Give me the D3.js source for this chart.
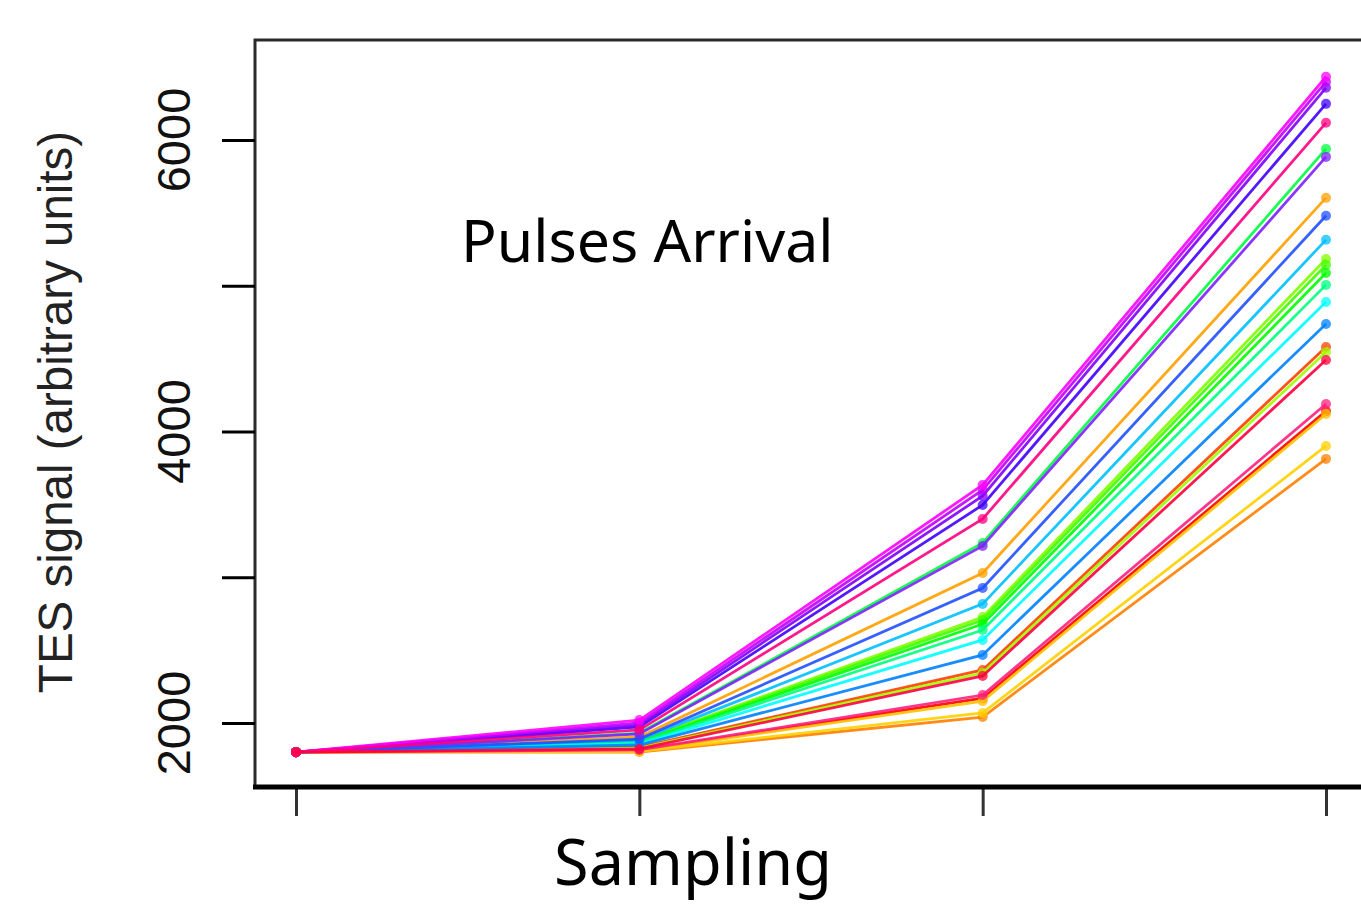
<!DOCTYPE html>
<html>
<head>
<meta charset="utf-8">
<script src="https://cdn.jsdelivr.net/npm/d3@7"></script>
<style>
  html, body { margin: 0; padding: 0; background: #fff; }
  svg { display: block; }
</style>
</head>
<body>
<svg id="chart" width="1361" height="909"></svg>
<script>
// ---- data ----
const samples = [1, 2, 3, 4];
const yTickValues = [2000, 3000, 4000, 5000, 6000];
const yTickLabels = ["2000", "", "4000", "", "6000"];
const title = "Pulses Arrival";
const xLabel = "Sampling";
const yLabel = "TES signal (arbitrary units)";

const seriesColors = [
  "#FF00FF", "#BF00FF", "#8000FF", "#4000FF", "#FF0080", "#00FF40",
  "#8020FF", "#FFA000", "#2050FF", "#00BFFF", "#80FF00", "#40FF00",
  "#00FF00", "#00FF80", "#00FFFF", "#0080FF", "#FF4000", "#A0FF00",
  "#FF0040", "#FF2080", "#FF0000", "#FFC000", "#FFD000", "#FF8000"
];
const seriesValues = [
  [1800, 2020, 3633, 6434],
  [1800, 2000, 3599, 6399],
  [1800, 1986, 3558, 6358],
  [1800, 1973, 3496, 6248],
  [1800, 1952, 3400, 6118],
  [1800, 1931, 3235, 5939],
  [1800, 1925, 3215, 5884],
  [1800, 1904, 3029, 5603],
  [1800, 1890, 2926, 5480],
  [1800, 1883, 2817, 5315],
  [1800, 1876, 2727, 5184],
  [1800, 1872, 2707, 5143],
  [1800, 1868, 2679, 5088],
  [1800, 1863, 2638, 5006],
  [1800, 1856, 2570, 4889],
  [1800, 1849, 2467, 4738],
  [1800, 1835, 2364, 4580],
  [1800, 1828, 2343, 4546],
  [1800, 1822, 2323, 4491],
  [1800, 1815, 2192, 4189],
  [1800, 1812, 2170, 4140],
  [1800, 1808, 2150, 4120],
  [1800, 1805, 2069, 3901],
  [1800, 1801, 2041, 3812]
];

// ---- drawing ----
const svg = d3.select("#chart");

const x = d3.scaleLinear().domain([1, 4]).range([296, 1326]);
const y = d3.scaleLinear().domain([2000, 6000]).range([723, 140]);

const boxLeft = 255, boxTop = 40, boxBottom = 786;

// plot frame
svg.append("path")
  .attr("d", `M1375,${boxTop}H${boxLeft}V${boxBottom}`)
  .attr("fill", "none")
  .attr("stroke", "#2a2a2a")
  .attr("stroke-width", 3);

// y axis ticks
const yAxis = d3.axisLeft(y)
  .tickValues(yTickValues)
  .tickSize(33)
  .tickFormat("");
const gy = svg.append("g")
  .attr("transform", `translate(${boxLeft},0)`)
  .call(yAxis);
gy.select(".domain").remove();
gy.selectAll(".tick line").attr("stroke", "#000").attr("stroke-width", 3);

// y tick labels (rotated)
svg.append("g").selectAll("text")
  .data(yTickValues.map((v, i) => ({ v, label: yTickLabels[i] })).filter(d => d.label))
  .join("text")
  .attr("transform", d => `translate(190,${y(d.v)}) rotate(-90)`)
  .attr("text-anchor", "middle")
  .attr("font-family", "'Liberation Sans', Arial, sans-serif")
  .attr("font-size", 47)
  .attr("fill", "#111")
  .text(d => d.label);

// x axis ticks
const xAxis = d3.axisBottom(x)
  .tickValues(samples)
  .tickSize(30)
  .tickFormat("");
const gx = svg.append("g")
  .attr("transform", `translate(0,${boxBottom})`)
  .call(xAxis);
gx.select(".domain").remove();
gx.selectAll(".tick line").attr("stroke", "#333").attr("stroke-width", 3);

// thick bottom line
svg.append("line")
  .attr("x1", 253).attr("x2", 1375)
  .attr("y1", boxBottom + 1).attr("y2", boxBottom + 1)
  .attr("stroke", "#000")
  .attr("stroke-width", 5);

// series (drawn in hue order so the red-pink series ends on top)
const series = seriesValues.map((vals, i) => ({ color: seriesColors[i], vals }));
const hueOf = c => { const h = d3.hsl(c).h; return isNaN(h) ? 0 : h; };
series.sort((a, b) => hueOf(a.color) - hueOf(b.color));

const line = d3.line()
  .x((d, i) => x(samples[i]))
  .y(d => y(d));

const gs = svg.append("g");
series.forEach(s => {
  const g = gs.append("g");
  g.append("path")
    .attr("d", line(s.vals))
    .attr("fill", "none")
    .attr("stroke", s.color)
    .attr("stroke-width", 2.8)
    .attr("stroke-opacity", 0.9);
  g.selectAll("circle")
    .data(s.vals)
    .join("circle")
    .attr("cx", (d, i) => x(samples[i]))
    .attr("cy", d => y(d))
    .attr("r", 5)
    .attr("fill", s.color)
    .attr("fill-opacity", 0.75);
});

// title inside the plot
svg.append("text")
  .attr("x", 461)
  .attr("y", 262)
  .attr("font-family", "'Noto Sans', 'Open Sans', sans-serif")
  .attr("font-size", 59)
  .attr("fill", "#000")
  .text(title);

// x label
svg.append("text")
  .attr("x", 693)
  .attr("y", 885)
  .attr("text-anchor", "middle")
  .attr("font-family", "'Noto Sans', 'Open Sans', sans-serif")
  .attr("font-size", 63)
  .attr("fill", "#000")
  .text(xLabel);

// y label
svg.append("text")
  .attr("transform", "translate(72,412) rotate(-90)")
  .attr("text-anchor", "middle")
  .attr("font-family", "'Liberation Sans', Arial, sans-serif")
  .attr("font-size", 47.5)
  .attr("fill", "#222")
  .text(yLabel);
</script>
</body>
</html>
